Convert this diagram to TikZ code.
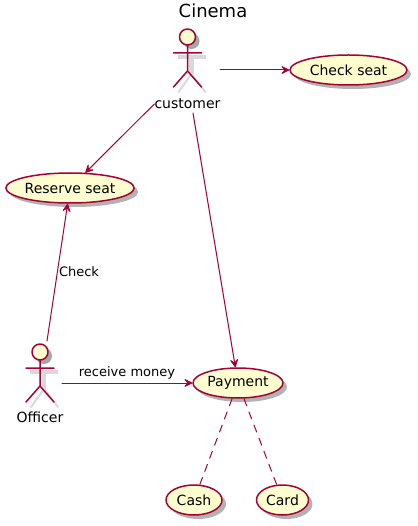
\documentclass[tikz,border=0pt]{standalone}
\usepackage{fontspec}
\setmainfont{DejaVu Sans}
\usetikzlibrary{shapes.geometric,shadows,arrows.meta}
\definecolor{umlline}{HTML}{A80036}
\definecolor{umlfill}{HTML}{FEFECE}
\tikzset{
	usecase/.style={ellipse,draw=umlline,fill=umlfill,line width=1.5pt,inner sep=0pt,minimum height=30pt,
		font=\fontsize{14}{16}\selectfont,drop shadow={shadow xshift=4pt,shadow yshift=-4pt,fill=black,opacity=.3}},
	actorname/.style={inner sep=0pt,font=\fontsize{14}{16}\selectfont},
	edgelabel/.style={inner sep=0pt,font=\fontsize{13}{15}\selectfont},
	link/.style={umlline,line width=1pt,-{Stealth[length=10pt,width=10pt,inset=4.5pt,round]}},
	plainlink/.style={umlline,line width=1pt,line cap=butt,dash pattern=on 8pt off 6pt}
}
\begin{document}
\begin{tikzpicture}[x=1pt,y=-1pt,line join=round,line cap=round]
	\useasboundingbox (0,0) rectangle (417,526);
	\node[inner sep=0pt,font=\fontsize{18}{20}\selectfont] (title) at (213,11) {Cinema};
	% actors
	\foreach \x/\y in {187.5/37,40/352}{
		\draw[black!15,line width=4.5pt,line cap=butt] (\x+4,\y+20) -- (\x+4,\y+37) (\x-10,\y+20) -- (\x+18,\y+20);
		\draw[black!15,line width=2pt] (\x+4,\y+37) -- (\x-9,\y+55) (\x+4,\y+37) -- (\x+18,\y+55);
		\fill[black!35] (\x+4,\y+4) circle (8);
		\draw[umlline,line width=1.5pt,fill=umlfill] (\x,\y) circle (8);
		\draw[umlline,line width=1.5pt] (\x,\y+8) -- (\x,\y+34) (\x-14,\y+16) -- (\x+14,\y+16)
			(\x-14,\y+50) -- (\x,\y+34) -- (\x+14,\y+50);
	}
	\node[actorname] (customer) at (187.5,104) {customer};
	\node[actorname] (officer) at (40,417) {Officer};
	% use cases
	\node[usecase,minimum width=117pt] (checkseat) at (348.5,70) {Check seat};
	\node[usecase,minimum width=128pt] (reserveseat) at (70,188) {Reserve seat};
	\node[usecase,minimum width=90pt] (payment) at (238,383) {Payment};
	\node[usecase,minimum width=56pt] (cash) at (194,500) {Cash};
	\node[usecase,minimum width=52pt] (card) at (282.5,500) {Card};
	% free ends of the connectors
	\coordinate (customerright) at (220,70);
	\coordinate (customerbelow) at (193,113);
	\coordinate (officertop) at (47,341);
	\coordinate (officerright) at (62,383);
	\draw[link] (customerright) -- (checkseat);
	\draw[link] (customer.west) -- (reserveseat);
	\draw[link] (customerbelow) -- (payment);
	\draw[link] (officertop) -- (reserveseat);
	\draw[link] (officerright) -- (payment);
	\draw[plainlink] (payment) -- (cash);
	\draw[plainlink] (payment) -- (card);
	\node[edgelabel] (checklabel) at (79,272) {Check};
	\node[edgelabel] (moneylabel) at (127,373) {receive money};
\end{tikzpicture}
\end{document}
